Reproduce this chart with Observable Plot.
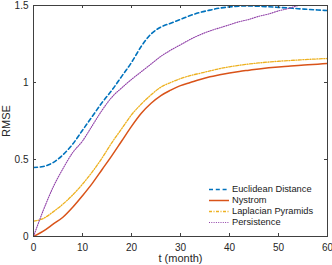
<!DOCTYPE html>
<html><head><meta charset="utf-8">
<script src="https://cdn.jsdelivr.net/npm/d3@7"></script>
<script src="https://cdn.jsdelivr.net/npm/@observablehq/plot@0.6"></script>
<style>
body{margin:0;background:#fff;font-family:"Liberation Sans",Arial,sans-serif}
#wrap{position:relative;width:332px;height:265px}
#legend{position:absolute;left:209px;top:184px;font-size:9.3px;color:#1a1a1a;line-height:11px}
.row{display:flex;align-items:center;height:11px;white-space:nowrap}
.row svg{margin-right:3px;flex:none}
g[aria-label="x-axis label"], g[aria-label="y-axis label"]{font-size:11px}
</style></head><body><div id="wrap"></div>
<script>
const months = [0,2,4,6,8,10,12,14,16,18,20,22,24,26,28,30,32,34,36,38,40,42,44,46,48,50,52,54,56,58,60];
const euclidean = [0.448,0.455,0.48,0.53,0.60,0.69,0.78,0.87,0.95,1.04,1.13,1.235,1.315,1.36,1.385,1.41,1.435,1.455,1.47,1.483,1.491,1.496,1.497,1.495,1.492,1.488,1.484,1.479,1.475,1.471,1.467];
const nystrom = [0,0.035,0.08,0.125,0.19,0.265,0.345,0.435,0.525,0.62,0.715,0.80,0.865,0.915,0.95,0.98,1.0,1.02,1.037,1.05,1.062,1.072,1.08,1.088,1.095,1.101,1.106,1.111,1.115,1.119,1.123];
const laplacian = [0.10,0.117,0.16,0.21,0.27,0.34,0.42,0.51,0.61,0.70,0.79,0.86,0.92,0.97,1.0,1.025,1.045,1.06,1.075,1.09,1.102,1.112,1.12,1.127,1.133,1.138,1.142,1.146,1.15,1.153,1.156];
const persistence = [0,0.17,0.32,0.44,0.545,0.62,0.72,0.82,0.905,0.965,1.02,1.07,1.12,1.17,1.21,1.245,1.28,1.31,1.335,1.355,1.375,1.395,1.41,1.43,1.445,1.465,1.48,1.5,1.515,1.53,1.545];
const seriesNames = ["Euclidean Distance","Nystrom","Laplacian Pyramids","Persistence"];
const xTicks = [0,10,20,30,40,50,60];
const yTicks = [0,0.5,1,1.5];

const styles = [
  {stroke:"#0072BD", strokeWidth:1.6, strokeDasharray:"4,2.8"},
  {stroke:"#D95319", strokeWidth:1.5, strokeDasharray:null},
  {stroke:"#EDB120", strokeWidth:1.3, strokeDasharray:"3,1.5,1,1.5"},
  {stroke:"#9040A8", strokeWidth:1.1, strokeDasharray:"1,1.3"}
];
const values = [euclidean, nystrom, laplacian, persistence];
const rows = v => months.map((t,i) => ({t, v: v[i]}));
const axisColor = "#404040";

const lineMarks = values.map((v,i) => Plot.line(rows(v), {
  x:"t", y:"v", curve:"monotone-x", clip:true,
  stroke: styles[i].stroke, strokeWidth: styles[i].strokeWidth,
  strokeDasharray: styles[i].strokeDasharray || undefined
}));

const chart = Plot.plot({
  width:332, height:265,
  marginLeft:33, marginRight:5, marginTop:5, marginBottom:29,
  style:{fontFamily:"'Liberation Sans', Arial, sans-serif", fontSize:"10px", color:"#262626", background:"#fff"},
  x:{domain:[0,60]},
  y:{domain:[0,1.5]},
  marks:[
    ...lineMarks,
    Plot.tickX(xTicks, {x:d=>d, insetTop:228, stroke:axisColor}),
    Plot.tickX(xTicks, {x:d=>d, insetBottom:228, stroke:axisColor}),
    Plot.tickY(yTicks, {y:d=>d, insetRight:291, stroke:axisColor}),
    Plot.tickY(yTicks, {y:d=>d, insetLeft:291, stroke:axisColor}),
    Plot.frame({stroke:axisColor}),
    Plot.axisX({ticks:xTicks, tickSize:0, tickPadding:7, tickFormat:d=>String(d), label:"t (month)", labelAnchor:"center", labelOffset:25, labelArrow:"none"}),
    Plot.axisY({ticks:yTicks, tickSize:0, tickPadding:5, tickFormat:d=>String(d), label:"RMSE", labelAnchor:"center", labelOffset:31, labelArrow:"none"})
  ]
});
const wrap = document.getElementById("wrap");
wrap.appendChild(chart);

const legend = document.createElement("div");
legend.id = "legend";
seriesNames.forEach((name,i) => {
  const row = document.createElement("div");
  row.className = "row";
  const s = styles[i];
  row.innerHTML = `<svg width="20" height="11"><line x1="0" x2="20" y1="5.5" y2="5.5" stroke="${s.stroke}" stroke-width="${s.strokeWidth}" ${s.strokeDasharray ? `stroke-dasharray="${s.strokeDasharray}"` : ""}/></svg><span>${name}</span>`;
  legend.appendChild(row);
});
wrap.appendChild(legend);
</script></body></html>
